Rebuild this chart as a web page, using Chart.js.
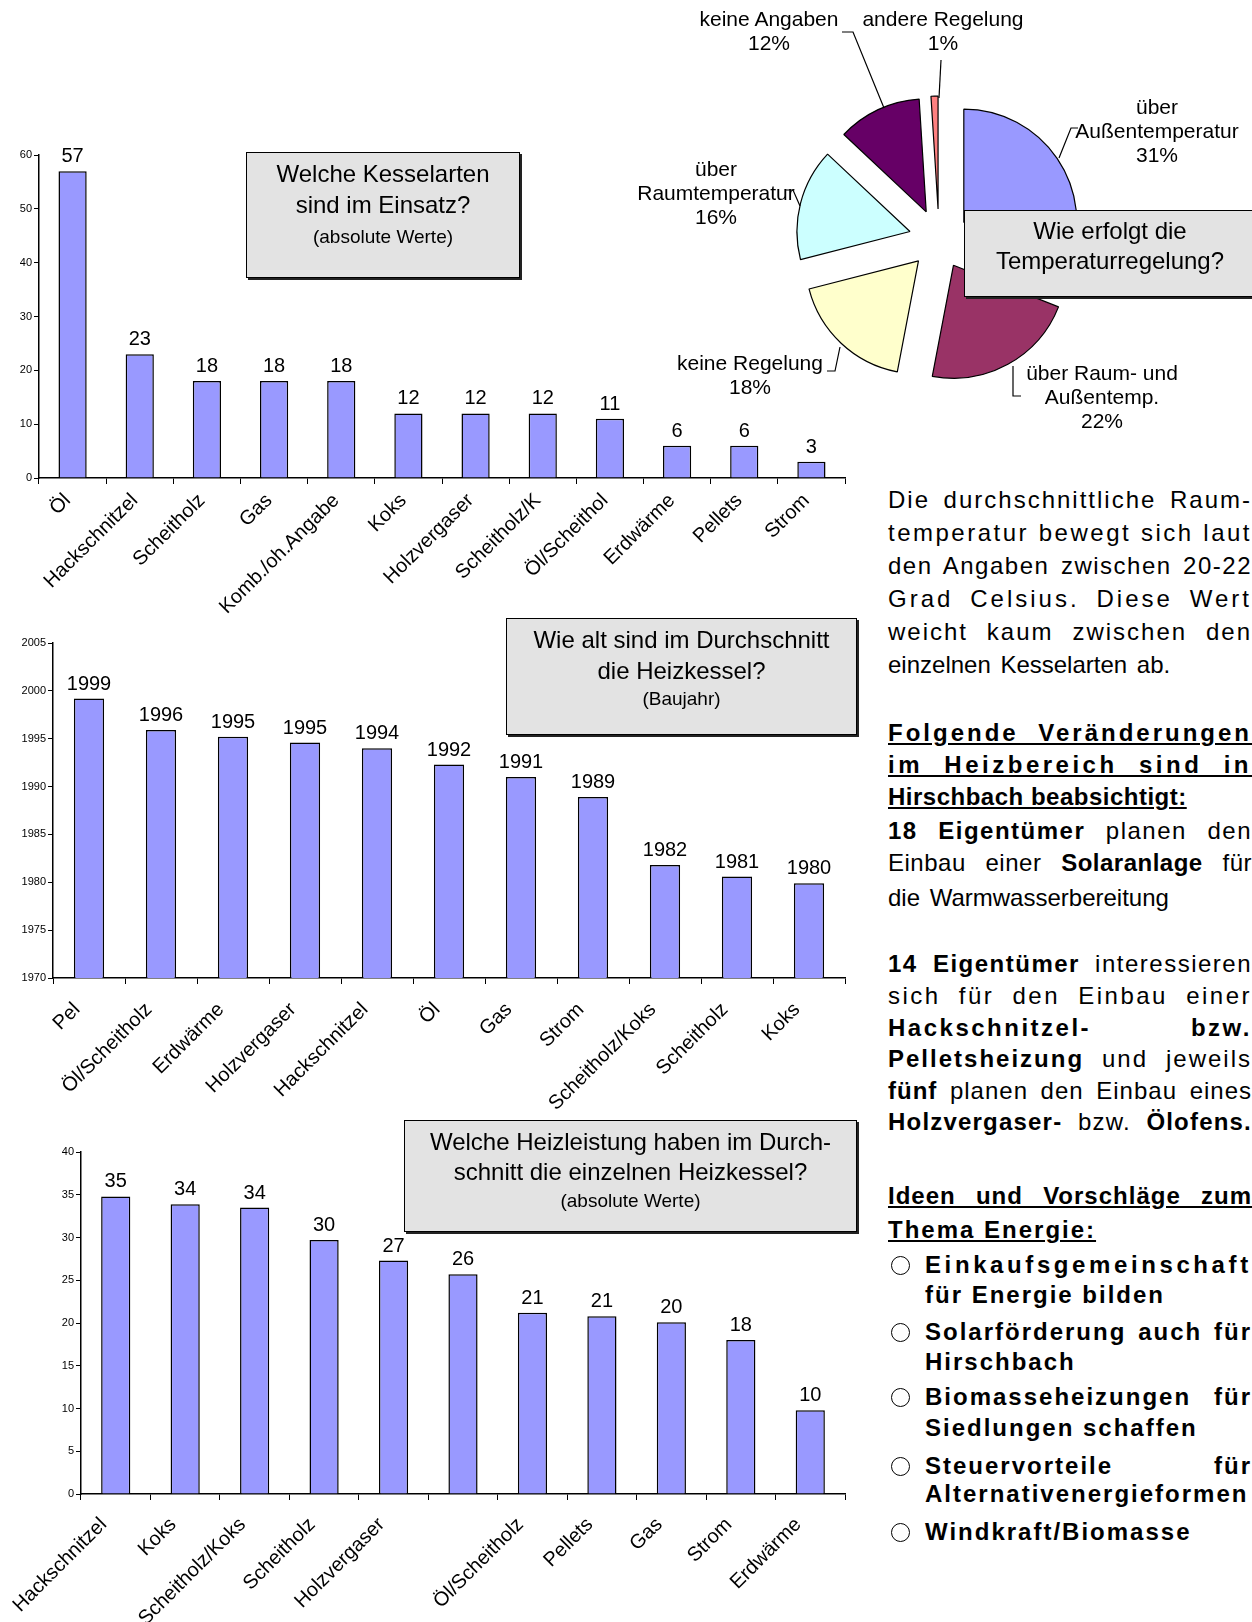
<!DOCTYPE html>
<html lang="de">
<head>
<meta charset="utf-8">
<script src="https://cdn.jsdelivr.net/npm/chart.js@4.4.1/dist/chart.umd.min.js"></script>
<style>
body { margin: 0; background: #fff; font-family: "Liberation Sans", Arial, sans-serif; color: #000; }
#seite { position: relative; width: 1252px; height: 1622px; overflow: hidden; }
canvas { position: absolute; z-index: 1; }
svg { position: absolute; left: 0; top: 0; z-index: 2; }
.box { position: absolute; z-index: 3; background: #e3e3e3; border: 1px solid #000; box-shadow: 2px 2px 0 #222; box-sizing: border-box; text-align: center; font-size: 24px; }
.box div { line-height: 31px; }
.box .klein { font-size: 19px; }
.lbl { position: absolute; z-index: 2; width: 220px; text-align: center; font-size: 21px; line-height: 24px; white-space: pre; }
.ln { position: absolute; left: 888px; width: 364px; font-size: 24px; line-height: 33px; }
.j { text-align: justify; text-align-last: justify; letter-spacing: 2px; }
.u { text-decoration: underline; font-weight: bold; }
.pkt { left: 925px; width: 327px; font-weight: bold; font-size: 24px; line-height: 28px; letter-spacing: 2px; }
.kreis { position: absolute; left: 891px; width: 17px; height: 17px; border: 1.5px solid #000; border-radius: 50%; }
</style>
</head>
<body>
<div id="seite">

<canvas id="kessel" width="860" height="500" style="left:0;top:130px"></canvas>
<canvas id="baujahr" width="860" height="480" style="left:0;top:630px"></canvas>
<canvas id="leistung" width="860" height="512" style="left:0;top:1110px"></canvas>
<canvas id="regelung" width="340" height="340" style="left:769px;top:69px"></canvas>

<svg width="1252" height="1622">
  <g fill="none" stroke="#000" stroke-width="1.2">
    <polyline points="842,32 853,32 884,108"/>
    <polyline points="941,60 939,98"/>
    <polyline points="1078,128 1071,128 1059,158"/>
    <polyline points="786,190 793,190 800,206"/>
    <polyline points="827,371 835,371 840,347"/>
    <polyline points="1013,366 1013,396 1021,396"/>
  </g>
</svg>

<div class="box" style="left:246px;top:152px;width:274px;height:126px;padding-top:5px">
  <div>Welche Kesselarten</div><div>sind im Einsatz?</div><div class="klein" style="line-height:33px">(absolute Werte)</div>
</div>
<div class="box" style="left:506px;top:618px;width:351px;height:117px;padding-top:5px">
  <div>Wie alt sind im Durchschnitt</div><div>die Heizkessel?</div><div class="klein" style="line-height:26px">(Baujahr)</div>
</div>
<div class="box" style="left:404px;top:1120px;width:453px;height:112px;padding-top:6px">
  <div style="line-height:30px">Welche Heizleistung haben im Durch-</div><div style="line-height:30px">schnitt die einzelnen Heizkessel?</div><div class="klein" style="line-height:28px">(absolute Werte)</div>
</div>
<div class="box" style="left:964px;top:210px;width:292px;height:87px;padding-top:5px">
  <div style="line-height:30px">Wie erfolgt die</div><div style="line-height:30px">Temperaturregelung?</div>
</div>

<div id="kreisLabels"></div>

<div class="ln j" style="top:483px">Die durchschnittliche Raum-</div>
<div class="ln j" style="top:516px;letter-spacing:2.5px">temperatur bewegt sich laut</div>
<div class="ln j" style="top:549px;letter-spacing:1.5px">den Angaben zwischen 20-22</div>
<div class="ln j" style="top:582px;letter-spacing:3px">Grad Celsius. Diese Wert</div>
<div class="ln j" style="top:615px">weicht kaum zwischen den</div>
<div class="ln" style="top:648px;word-spacing:3px">einzelnen Kesselarten ab.</div>

<div class="ln j u" style="top:716px;letter-spacing:3px">Folgende Veränderungen</div>
<div class="ln j u" style="top:748px;letter-spacing:3.5px">im Heizbereich sind in</div>
<div class="ln u" style="top:780px;letter-spacing:0.5px">Hirschbach beabsichtigt:</div>
<div class="ln j" style="top:814px;letter-spacing:1.5px"><b>18 Eigentümer</b> planen den</div>
<div class="ln j" style="top:846px;letter-spacing:0.5px">Einbau einer <b>Solaranlage</b> für</div>
<div class="ln" style="top:881px;word-spacing:3px">die Warmwasserbereitung</div>

<div class="ln j" style="top:947px;letter-spacing:1.5px"><b>14 Eigentümer</b> interessieren</div>
<div class="ln j" style="top:979px;letter-spacing:2.5px">sich für den Einbau einer</div>
<div class="ln j" style="top:1011px;letter-spacing:2.5px"><b>Hackschnitzel- bzw.</b></div>
<div class="ln j" style="top:1042px"><b>Pelletsheizung</b> und jeweils</div>
<div class="ln j" style="top:1074px;letter-spacing:1px"><b>fünf</b> planen den Einbau eines</div>
<div class="ln j" style="top:1105px;letter-spacing:1.2px"><b>Holzvergaser-</b> bzw. <b>Ölofens.</b></div>

<div class="ln j u" style="top:1179px;letter-spacing:1px">Ideen und Vorschläge zum</div>
<div class="ln u" style="top:1213px;letter-spacing:2px">Thema Energie:</div>

<div class="kreis" style="top:1256px"></div>
<div class="ln pkt" style="top:1251px;letter-spacing:3.6px">Einkaufsgemeinschaft</div>
<div class="ln pkt" style="top:1281px">für Energie bilden</div>
<div class="kreis" style="top:1323px"></div>
<div class="ln pkt j" style="top:1318px">Solarförderung auch für</div>
<div class="ln pkt" style="top:1348px">Hirschbach</div>
<div class="kreis" style="top:1388px"></div>
<div class="ln pkt j" style="top:1383px">Biomasseheizungen für</div>
<div class="ln pkt" style="top:1414px">Siedlungen schaffen</div>
<div class="kreis" style="top:1457px"></div>
<div class="ln pkt j" style="top:1452px">Steuervorteile für</div>
<div class="ln pkt" style="top:1480px">Alternativenergieformen</div>
<div class="kreis" style="top:1523px"></div>
<div class="ln pkt" style="top:1518px">Windkraft/Biomasse</div>

</div>
<script>
// Welche Kesselarten sind im Einsatz? (absolute Werte)
const kesselLabels = ["Öl", "Hackschnitzel", "Scheitholz", "Gas", "Komb./oh.Angabe", "Koks",
  "Holzvergaser", "Scheitholz/K", "Öl/Scheithol", "Erdwärme", "Pellets", "Strom"];
const kesselWerte = [57, 23, 18, 18, 18, 12, 12, 12, 11, 6, 6, 3];

// Wie alt sind im Durchschnitt die Heizkessel? (Baujahr)
const baujahrLabels = ["Pel", "Öl/Scheitholz", "Erdwärme", "Holzvergaser", "Hackschnitzel", "Öl",
  "Gas", "Strom", "Scheitholz/Koks", "Scheitholz", "Koks"];
const baujahrWerte = [1999.2, 1995.9, 1995.2, 1994.6, 1994.0, 1992.3, 1991.0, 1988.9, 1981.8, 1980.6, 1979.9];

// Welche Heizleistung haben im Durchschnitt die einzelnen Heizkessel?
const leistungLabels = ["Hackschnitzel", "Koks", "Scheitholz/Koks", "Scheitholz", "Holzvergaser", "",
  "Öl/Scheitholz", "Pellets", "Gas", "Strom", "Erdwärme"];
const leistungWerte = [34.8, 33.9, 33.5, 29.7, 27.3, 25.7, 21.2, 20.8, 20.1, 18.0, 9.8];

// Wie erfolgt die Temperaturregelung? (Prozent)
const regelungLabels = ["über\nAußentemperatur", "über Raum- und\nAußentemp.", "keine Regelung",
  "über\nRaumtemperatur", "keine Angaben", "andere Regelung"];
const regelungWerte = [31, 22, 18, 16, 12, 1];
const regelungFarben = ["#9999ff", "#993366", "#ffffcc", "#ccffff", "#660066", "#ff8080"];
// mittelpunkt x / oberkante der beschriftungen
const regelungPos = [[1157, 95], [1102, 361], [750, 351], [716, 157], [769, 7], [943, 7]];

const schrift = '"Liberation Sans", Arial, sans-serif';
Chart.defaults.font.family = schrift;
Chart.defaults.color = "#000";

// Werte über den Balken
const wertLabels = {
  id: "wertLabels",
  afterDatasetsDraw(chart) {
    const ctx = chart.ctx;
    const meta = chart.getDatasetMeta(0);
    ctx.save();
    ctx.font = "20px " + schrift;
    ctx.fillStyle = "#000";
    ctx.textAlign = "center";
    ctx.textBaseline = "alphabetic";
    meta.data.forEach((bar, i) => {
      ctx.fillText(Math.round(chart.data.datasets[0].data[i]), bar.x, bar.y - 9);
    });
    ctx.restore();
  }
};

// Kreissegmente herausziehen, ohne den Radius zu ändern
const explodiert = {
  id: "explodiert",
  beforeDatasetsDraw(chart) {
    const a = chart.chartArea;
    const cx = (a.left + a.right) / 2;
    const cy = (a.top + a.bottom) / 2;
    chart.getDatasetMeta(0).data.forEach(arc => {
      const mitte = (arc.startAngle + arc.endAngle) / 2;
      arc.x = cx + Math.cos(mitte) * 30;
      arc.y = cy + Math.sin(mitte) * 30;
    });
  }
};

function balken(id, labels, werte, a) {
  new Chart(document.getElementById(id), {
    type: "bar",
    data: {
      labels: labels,
      datasets: [{
        data: werte,
        backgroundColor: "#9999ff",
        borderColor: "#000",
        borderWidth: 1.5,
        categoryPercentage: 1,
        barPercentage: 0.42
      }]
    },
    options: {
      responsive: false,
      animation: false,
      devicePixelRatio: 1,
      layout: { padding: { top: a.oben, right: 15, left: 0, bottom: 0 } },
      plugins: { legend: { display: false }, tooltip: { enabled: false } },
      scales: {
        x: {
          grid: { drawOnChartArea: false, tickLength: 6, color: "#000", offset: true },
          border: { color: "#000", width: 1.5 },
          ticks: {
            color: "#000", font: { size: 20 }, minRotation: 45, maxRotation: 45, autoSkip: false,
            padding: a.abstand, labelOffset: a.versatz
          },
          afterFit: s => { s.height = a.xHoehe; }
        },
        y: {
          min: a.min,
          max: a.max,
          grid: { drawOnChartArea: false, tickLength: 5, color: "#000" },
          border: { color: "#000", width: 1.5 },
          ticks: { stepSize: a.schritt, color: "#000", font: { size: 11 }, padding: 2, callback: v => String(v) },
          afterFit: s => { s.width = a.yBreite; }
        }
      }
    },
    plugins: [wertLabels]
  });
}

balken("kessel", kesselLabels, kesselWerte,
  { oben: 25, yBreite: 39, xHoehe: 152, min: 0, max: 60, schritt: 10, abstand: 5, versatz: -5 });
balken("baujahr", baujahrLabels, baujahrWerte,
  { oben: 13, yBreite: 53, xHoehe: 132, min: 1970, max: 2005, schritt: 5, abstand: 14, versatz: -12 });
balken("leistung", leistungLabels, leistungWerte,
  { oben: 42, yBreite: 81, xHoehe: 128, min: 0, max: 40, schritt: 5, abstand: 13, versatz: -12 });

new Chart(document.getElementById("regelung"), {
  type: "pie",
  data: {
    labels: regelungLabels,
    datasets: [{
      data: regelungWerte,
      backgroundColor: regelungFarben,
      borderColor: "#000",
      borderWidth: 1.2,
      radius: 113
    }]
  },
  options: {
    responsive: false,
    animation: false,
    devicePixelRatio: 1,
    layout: { padding: 0 },
    plugins: { legend: { display: false }, tooltip: { enabled: false } }
  },
  plugins: [explodiert]
});

// Beschriftung des Kreisdiagramms
const box = document.getElementById("kreisLabels");
regelungLabels.forEach((name, i) => {
  const d = document.createElement("div");
  d.className = "lbl";
  d.style.left = (regelungPos[i][0] - 110) + "px";
  d.style.top = regelungPos[i][1] + "px";
  d.textContent = name + "\n" + regelungWerte[i] + "%";
  box.appendChild(d);
});
</script>
</body>
</html>
